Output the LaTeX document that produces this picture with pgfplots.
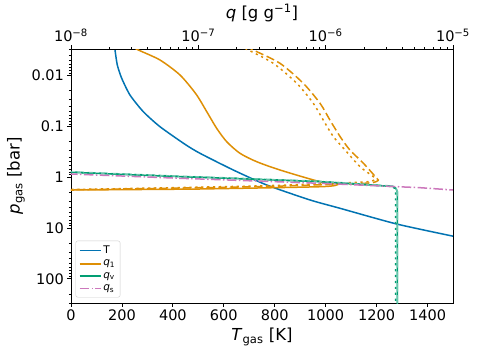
\documentclass[border=0pt]{standalone}
\usepackage{fontspec}
\setmainfont{DejaVu Sans}
\usepackage{pgfplots}
\pgfplotsset{compat=1.18}

\definecolor{cbblue}{HTML}{0173B2}
\definecolor{cborange}{HTML}{DE8F05}
\definecolor{cbgreen}{HTML}{029E73}
\definecolor{cbpink}{HTML}{CC78BC}

\begin{document}
\begin{tikzpicture}
% temperature profile, bottom axis
\begin{axis}[
    scale only axis, width=382pt, height=254pt,
    ymode=log, y dir=reverse, ymin=0.003, ymax=300,
    tick align=outside,
    major tick length=3.6pt, minor tick length=2pt,
    every tick/.style={black, line width=0.8pt},
    axis line style={line width=0.8pt},
    tick label style={font=\fontsize{14.5}{17}\selectfont},
    label style={font=\fontsize{16.5}{19}\selectfont},
    xmin=0, xmax=1500,
    xtick={0,200,...,1400},
    xticklabels={0,200,400,600,800,1000,1200,1400},
    ytick={0.01,0.1,1,10,100},
    yticklabels={0.01,0.1,1,10,100},
    minor ytick={0.003,0.004,0.005,0.006,0.007,0.008,0.009,
                 0.02,0.03,0.04,0.05,0.06,0.07,0.08,0.09,
                 0.2,0.3,0.4,0.5,0.6,0.7,0.8,0.9,
                 2,3,4,5,6,7,8,9,20,30,40,50,60,70,80,90,200,300},
    xtick pos=left, ytick pos=left,
    xlabel={\textit{T}\textsubscript{gas} [K]},
    ylabel={\textit{p}\textsubscript{gas} [bar]},
]
\coordinate (bl) at (rel axis cs:0,0);
\coordinate (tr) at (rel axis cs:1,1);
\addplot[cbblue, line width=1.5pt, smooth, tension=0.4] coordinates {
  (170.5,0.0025) (172.8,0.00314) (181.8,0.00619) (199.1,0.01132)
  (231.7,0.0242) (283.9,0.0514) (349.5,0.1016) (447.6,0.2254)
  (506.5,0.339) (637.3,0.723) (768.4,1.426) (938.5,2.81)
  (1056.3,4.10) (1278.9,8.36) (1500,14.5)};
\end{axis}

% mass fractions, top axis
\begin{axis}[
    scale only axis, width=382pt, height=254pt,
    ymode=log, y dir=reverse, ymin=0.003, ymax=300,
    tick align=outside,
    major tick length=3.6pt, minor tick length=2pt,
    every tick/.style={black, line width=0.8pt},
    axis line style={line width=0.8pt},
    tick label style={font=\fontsize{14.5}{17}\selectfont},
    label style={font=\fontsize{16.5}{19}\selectfont},
    xmode=log, xmin=1e-8, xmax=1e-5,
    axis x line*=top, hide y axis,
    xtick={1e-8,1e-7,1e-6,1e-5},
    xticklabels={10\textsuperscript{−8},10\textsuperscript{−7},10\textsuperscript{−6},10\textsuperscript{−5}},
    minor xtick={2e-8,3e-8,4e-8,5e-8,6e-8,7e-8,8e-8,9e-8,
                 2e-7,3e-7,4e-7,5e-7,6e-7,7e-7,8e-7,9e-7,
                 2e-6,3e-6,4e-6,5e-6,6e-6,7e-6,8e-6,9e-6},
    xlabel={\textit{q} [g g\textsuperscript{−1}]},
    legend cell align=left,
    legend style={at={(0.012,0.022)}, anchor=south west,
      draw=black!20, rounded corners=2pt, fill=white, fill opacity=0.8,
      text opacity=1, font=\fontsize{10.5}{12.5}\selectfont,
      inner sep=3pt, row sep=1pt},
    legend image code/.code={\draw[line width=1.5pt, #1] (0pt,0pt) -- (21pt,0pt);},
]
\addlegendimage{cbblue, line width=1.5pt}
\addlegendentry{T}

\addplot[cborange, line width=1.5pt, smooth, tension=0.45] coordinates {
  (3.07e-8,0.00274) (3.38e-8,0.00314) (5.00e-8,0.00494) (7.18e-8,0.00975)
  (9.59e-8,0.0231) (1.165e-7,0.0514) (1.393e-7,0.1091) (1.671e-7,0.2004)
  (2.124e-7,0.339) (2.871e-7,0.4955) (4.38e-7,0.723) (9.04e-7,1.227)
  (1.23e-6,1.300) (1.25e-6,1.393) (9.04e-7,1.542) (1.03e-7,1.710)
  (7.18e-8,1.726) (1e-8,1.791) (3e-9,1.82)};
\addlegendentry{\textit{q}\textsubscript{1}}

\addplot[cborange, line width=1.5pt, smooth, tension=0.45, dash pattern=on 8.3pt off 3.6pt, forget plot] coordinates {
  (2.33e-7,0.00262) (2.70e-7,0.00314) (4.38e-7,0.00574) (6.67e-7,0.01419)
  (9.04e-7,0.0352) (1.08e-6,0.0750) (1.30e-6,0.1596) (1.55e-6,0.2917)
  (1.98e-6,0.533) (2.52e-6,1.052) (2.58e-6,1.164) (2.36e-6,1.276)
  (1.86e-6,1.334) (1.08e-6,1.393) (2.55e-7,1.55) (1e-8,1.77) (3e-9,1.80)};

\addplot[cborange, line width=1.5pt, smooth, tension=0.45, dash pattern=on 2.2pt off 3.7pt, forget plot] coordinates {
  (2.12e-7,0.00262) (2.47e-7,0.00314) (3.88e-7,0.00574) (5.93e-7,0.01419)
  (8.00e-7,0.0352) (9.57e-7,0.0750) (1.15e-6,0.1596) (1.42e-6,0.2917)
  (1.86e-6,0.621) (2.37e-6,0.977) (2.44e-6,1.109) (2.23e-6,1.216)
  (1.70e-6,1.271) (1.08e-6,1.330) (2.55e-7,1.50) (1e-8,1.75) (3e-9,1.78)};

\addplot[cbgreen, line width=1.5pt] coordinates {
  (3e-9,0.78) (1e-8,0.802) (7.18e-8,0.979) (1.03e-7,1.007) (9.04e-7,1.227)
  (3.38e-6,1.528) (3.56e-6,1.656) (3.66e-6,1.96) (3.66e-6,400)};
\addlegendentry{\textit{q}\textsubscript{v}}

\addplot[cbgreen!60, line width=1.5pt, dash pattern=on 8.3pt off 3.6pt, forget plot] coordinates {
  (3e-9,0.765) (1e-8,0.787) (7.18e-8,0.960) (1.03e-7,0.988) (9.04e-7,1.205)
  (3.38e-6,1.50) (3.56e-6,1.63) (3.66e-6,1.93) (3.66e-6,400)};

\addplot[cbgreen, line width=1.5pt, dash pattern=on 2.2pt off 3.7pt, forget plot] coordinates {
  (3e-9,0.775) (1e-8,0.797) (7.18e-8,0.972) (1.03e-7,1.0) (9.04e-7,1.218)
  (3.30e-6,1.52) (3.47e-6,1.64) (3.54e-6,1.95) (3.54e-6,400)};

\addplot[cbpink, line width=1.5pt, dash pattern=on 9.6pt off 2.4pt on 1.5pt off 2.4pt] coordinates {
  (3e-9,0.83) (1e-8,0.867) (7.18e-8,1.052) (1.03e-7,1.086) (9.04e-7,1.321)
  (5.51e-6,1.611) (1e-5,1.79)};
\addlegendentry{\textit{q}\textsubscript{s}}
\end{axis}
\path ([xshift=-71pt,yshift=-53pt]bl) rectangle ([xshift=25pt,yshift=49pt]tr);
\end{tikzpicture}
\end{document}
